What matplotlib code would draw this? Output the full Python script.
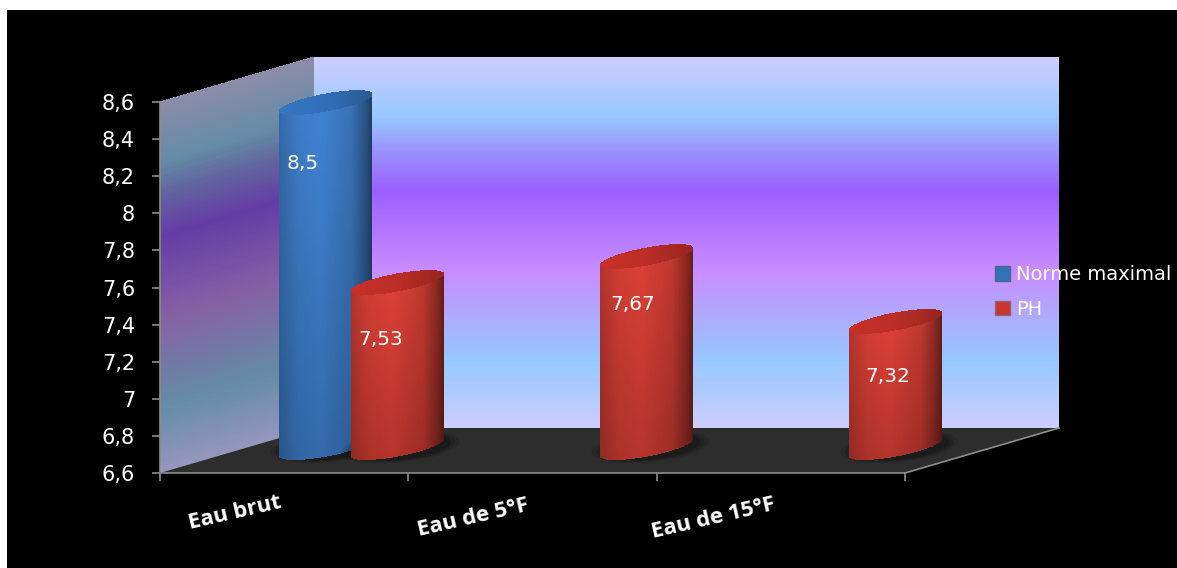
import numpy as np
import matplotlib.pyplot as plt
from matplotlib.colors import LinearSegmentedColormap
from matplotlib.patches import Patch, Polygon, Ellipse, Rectangle

categories = ['Eau brut', 'Eau de 5°F', 'Eau de 15°F']
norme_maximal = [8.5]
ph = [7.53, 7.67, 7.32]
yticks = [6.6, 6.8, 7, 7.2, 7.4, 7.6, 7.8, 8, 8.2, 8.4, 8.6]

# axis box is the front plane, the walls are pushed back by this depth
ymin, ymax = 6.6, 8.6
depth_x = 0.62
depth_y = 0.2426
bar_depth = 0.4
base_lift = 0.04
bar_half = 0.1873
tilt = 0.0458
minor = 0.0485

stops = [0, 0.18, 0.425, 0.64, 0.76, 0.84, 1]
back_cols = ['#cdcdff', '#96c8ff', '#c88cff', '#9b5fff', '#9a98ff', '#96c8ff', '#cdcdff']
side_cols = ['#9696be', '#648ca5', '#875fa5', '#643ca5', '#62669f', '#648ca5', '#8c8ca8']

def fmt(v):
    return str(v).replace('.', ',')

def gradient(cols):
    return LinearSegmentedColormap.from_list('g', list(zip(stops, cols)))

def wall(ax, x, y, height, cols, z):
    # x and y hold the two lower corners, the mesh is sheared with them
    n = 400
    frac = np.linspace(0, 1, n)
    X = np.array([[x[0], x[1]]] * n)
    Y = np.array([[y[0], y[1]]] * n) + frac[:, None] * height
    C = ((frac[:-1] + frac[1:]) / 2)[:, None]
    ax.pcolormesh(X, Y, C, shading='flat', cmap=gradient(cols), vmin=0, vmax=1,
                  zorder=z, clip_on=False, antialiased=False, linewidth=0)

def shade(light, u):
    # wide highlight left of the middle, dark only near the right edge
    pos = [-1, -0.6, -0.1, 0.55, 0.85, 1]
    k = [0.8, 0.95, 1.0, 0.87, 0.64, 0.46]
    f = np.interp(u, pos, k)
    return np.outer(f, light)

def cylinder(ax, cat_x, value, light, cap, z):
    cx = cat_x + bar_depth * depth_x
    y0 = ymin + bar_depth * depth_y + base_lift
    y1 = value + bar_depth * depth_y
    u = np.linspace(-1, 1, 121)
    um = (u[:-1] + u[1:]) / 2
    X = cx + bar_half * u
    front = tilt * u - minor * np.sqrt(1 - u ** 2)
    rear = tilt * u + minor * np.sqrt(1 - u ** 2)

    # floor shadow
    for grow, a in [(1.28, 0.10), (1.18, 0.14), (1.08, 0.2)]:
        ax.add_patch(Ellipse((cx + 0.015, y0 + 0.005), 2 * bar_half * grow, 0.13 * grow, angle=8,
                             facecolor='black', alpha=a, edgecolor='none', zorder=z - 1, clip_on=False))

    # body, colour runs across the width and fades a little to the bottom
    rows = np.linspace(0, 1, 41)
    XX = np.tile(X, (41, 1))
    YY = np.array([y0 + front + r * (y1 - y0) for r in rows])
    body = shade(np.array(light), um)
    fade = 0.82 + 0.18 * (rows[:-1] + rows[1:]) / 2
    C = np.clip(fade[:, None, None] * body[None, :, :], 0, 1)
    ax.pcolormesh(XX, YY, C, shading='flat', zorder=z, clip_on=False, linewidth=0, antialiased=False)

    # top cap
    XX = np.tile(X, (9, 1))
    YY = np.array([y1 + front + r * (rear - front) for r in np.linspace(0, 1, 9)])
    C = np.clip(np.outer(np.interp(um, [-1, 0, 1], [1.0, 0.94, 0.76]), cap), 0, 1)[None, :, :].repeat(8, axis=0)
    ax.pcolormesh(XX, YY, C, shading='flat', zorder=z + 0.1, clip_on=False, linewidth=0, antialiased=False)

fig = plt.figure(figsize=(11.77, 5.68), dpi=100, facecolor='white')
fig.add_artist(Rectangle((7 / 1177, 0), 1, 558 / 568, transform=fig.transFigure,
                         facecolor='black', edgecolor='none', zorder=-5))

ax = fig.add_axes([160 / 1177, 95 / 568, 745 / 1177, 371 / 568])
ax.patch.set_visible(False)

# floor and the two walls
ax.add_patch(Polygon([(0, ymin), (3, ymin), (3 + depth_x, ymin + depth_y), (depth_x, ymin + depth_y)],
                     facecolor='#2d2d2d', edgecolor='none', zorder=1, clip_on=False))
ax.plot([3, 3 + depth_x], [ymin, ymin + depth_y], color='#8c8c8c', lw=1.2, zorder=1.5, clip_on=False)
wall(ax, [depth_x, 3 + depth_x], [ymin + depth_y] * 2, ymax - ymin, back_cols, 0.5)
wall(ax, [0, depth_x], [ymin, ymin + depth_y], ymax - ymin, side_cols, 0.6)

red = (0.86, 0.25, 0.21)
blue = (0.25, 0.51, 0.82)
red_cap = (0.78, 0.19, 0.16)
blue_cap = (0.21, 0.46, 0.76)
blue_x = 0.42
red_x = [0.707, 1.712, 2.713]

for v in norme_maximal:
    cylinder(ax, blue_x, v, blue, blue_cap, 3)
for x, v in zip(red_x, ph):
    cylinder(ax, x, v, red, red_cap, 5)

# value labels
ax.text(0.576, 8.271, fmt(norme_maximal[0]), color='white', fontsize=14.5, ha='center', va='center', zorder=9)
label_x = [0.89, 1.905, 2.932]
label_y = [7.317, 7.511, 7.118]
for x, y, v in zip(label_x, label_y, ph):
    ax.text(x, y, fmt(v), color='white', fontsize=14.5, ha='center', va='center', zorder=9)

ax.set_xlim(0, 3)
ax.set_ylim(ymin, ymax)
ax.set_xticks([0, 1, 2, 3])
ax.set_xticklabels([])
ax.set_yticks(yticks)
ax.set_yticklabels([fmt(t) for t in yticks], color='white', fontsize=15)
ax.tick_params(axis='both', color='#8c8c8c', length=6, width=1.2)
ax.tick_params(axis='y', pad=12)
for s in ['top', 'right']:
    ax.spines[s].set_visible(False)
for s in ['left', 'bottom']:
    ax.spines[s].set_color('#8c8c8c')
    ax.spines[s].set_linewidth(1.2)
    ax.spines[s].set_zorder(8)

# slanted category names
cat_x = [0.30, 1.26, 2.23]
cat_y = [6.384, 6.357, 6.357]
for x, y, name in zip(cat_x, cat_y, categories):
    ax.text(x, y, name, color='white', fontsize=16, fontweight='bold', family='Open Sans',
            rotation=13, ha='center', va='center', rotation_mode='anchor', clip_on=False)

handles = [Patch(facecolor='#2f72b8', edgecolor='#54628f', label='Norme maximal'),
           Patch(facecolor='#c8352d', edgecolor='#96607a', label='PH')]
leg = ax.legend(handles=handles, loc='center left', bbox_to_anchor=(995 / 1177, 276 / 568),
                bbox_transform=fig.transFigure, frameon=False, fontsize=14, labelcolor='white',
                handlelength=0.77, handleheight=0.77, handletextpad=0.3, labelspacing=0.8,
                borderpad=0, borderaxespad=0)
leg.set_zorder(10)

fig.savefig('out.png', dpi=100, facecolor=fig.get_facecolor())
